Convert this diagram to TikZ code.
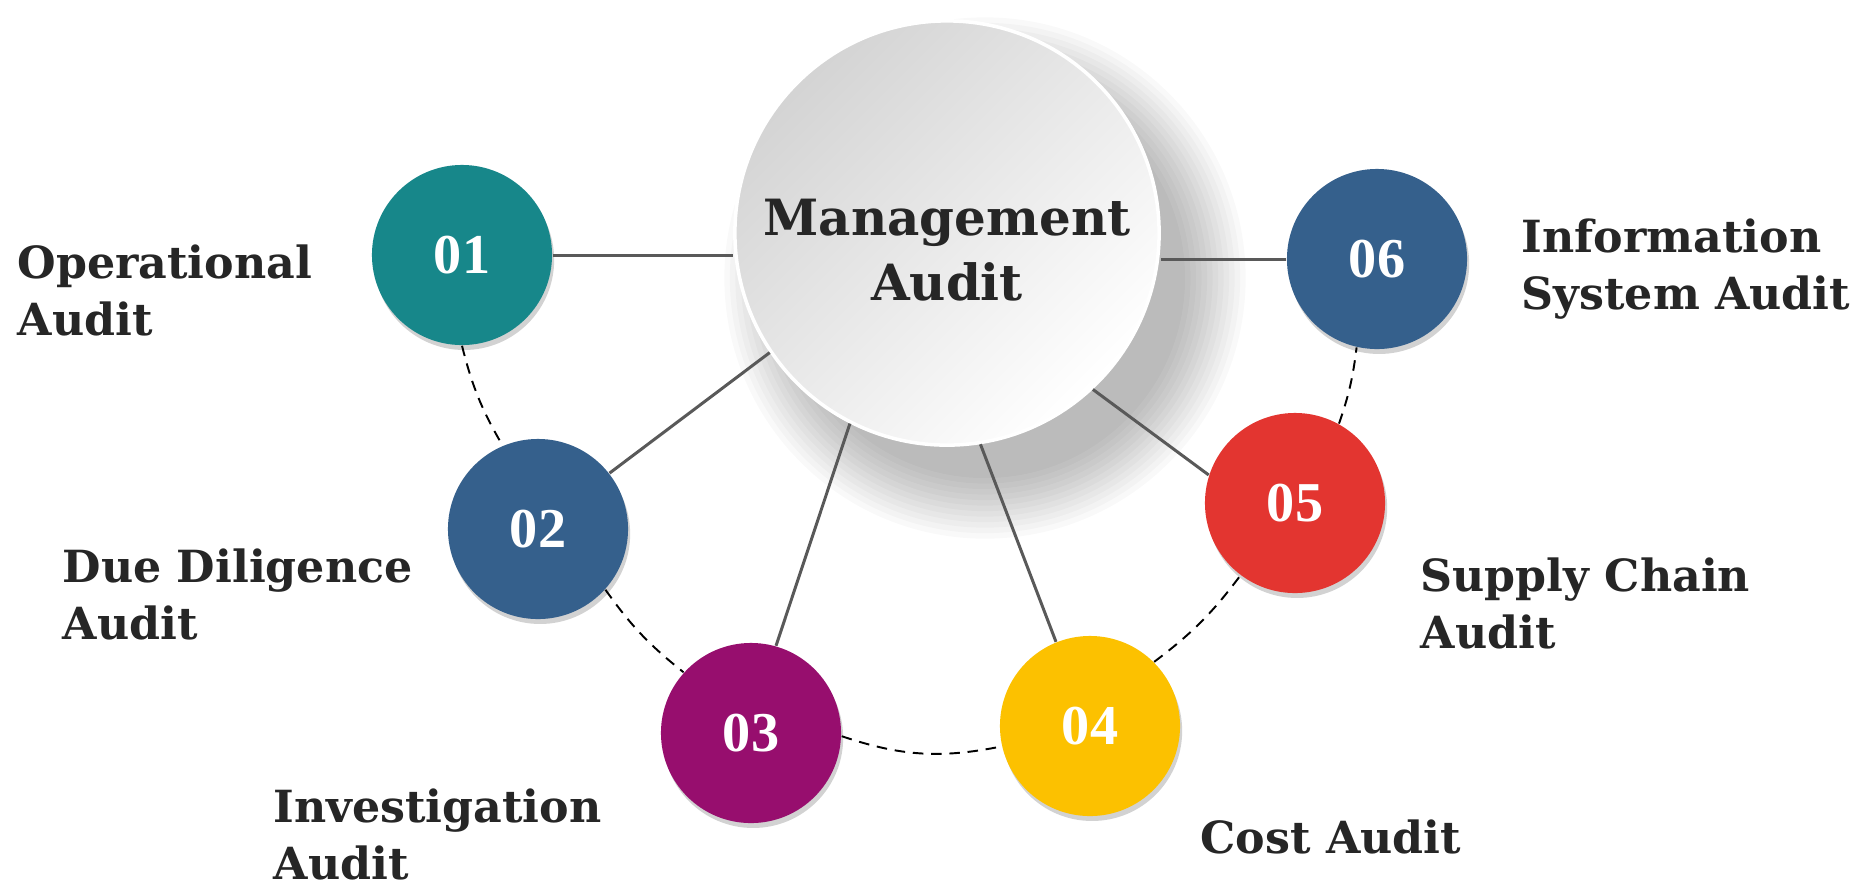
\documentclass[tikz,border=0pt]{standalone}
\usepackage{fontspec}
\setmainfont{DejaVu Serif}
\newfontfamily\numfont{Liberation Serif}
\usetikzlibrary{shadows}

\definecolor{teal01}{HTML}{17878A}
\definecolor{blue02}{HTML}{35608C}
\definecolor{purple03}{HTML}{970E6E}
\definecolor{yellow04}{HTML}{FCC100}
\definecolor{red05}{HTML}{E33530}
\definecolor{linegray}{HTML}{595959}
\definecolor{textgray}{HTML}{262626}

\begin{document}
\begin{tikzpicture}[x=0.01cm, y=-0.01cm,
  bubble/.style={circle, minimum size=1.8cm, inner sep=0pt, text=white,
    font=\numfont\bfseries\fontsize{16}{18}\selectfont,
    drop shadow={shadow xshift=0.6pt, shadow yshift=-1.4pt, opacity=0.35}},
  auditname/.style={align=left, anchor=base west, inner sep=0pt, text=textgray,
    font=\bfseries\fontsize{12.6}{16.2}\selectfont},
  spoke/.style={draw=linegray, line width=0.85pt},
  dashlink/.style={draw=black, line width=0.55pt, dash pattern=on 3pt off 2.2pt}]

\fill[white] (0,0) rectangle (1863,887);
\useasboundingbox (0,0) rectangle (1863,887);

% soft shadow of the centre circle
\foreach \i in {0,...,11}
  \fill[black, opacity=0.022] (985,278) circle ({2.0cm+0.55mm*\i});

\node[circle, minimum size=4.24cm, inner sep=0pt, draw=white, line width=1pt,
  top color=black!17, bottom color=white, shading angle=45] (main) at (947,233) {};
\node[align=center, text=textgray, font=\bfseries\fontsize{14.2}{18.5}\selectfont]
  (maintext) at ([yshift=-5pt]main.center) {Management\\Audit};

\node[bubble, fill=teal01] (n01) at (462,255) {01};
\node[bubble, fill=blue02] (n02) at (538,529) {02};
\node[bubble, fill=purple03] (n03) at (751,733) {03};
\node[bubble, fill=yellow04] (n04) at (1090,726) {04};
\node[bubble, fill=red05] (n05) at (1295,503) {05};
\node[bubble, fill=blue02] (n06) at (1377,259) {06};

% spokes from the centre
\draw[spoke] (n01.east) -- (n01.east -| main.west);
\draw[spoke] (n02.38) -- (main.214);
\draw[spoke] (n03.74) -- (main.243);
\draw[spoke] (n04.112) -- (main.-81);
\draw[spoke] (n05.162) -- (main.-47);
\draw[spoke] (n06.west) -- (n06.west -| main.east);

% dashed ring
\draw[dashlink] (n01.-90) to[bend right=8] (n02.113);
\draw[dashlink] (n02.-42) to[bend right=8] (n03.138);
\draw[dashlink] (n03.-2) to[bend right=15] (n04.193);
\draw[dashlink] (n04.45) to[bend right=8] (n05.233);
\draw[dashlink] (n05.61) to[bend right=6] (n06.257);

\node[auditname] (t01) at (17,335) {Operational\\Audit};
\node[auditname] (t02) at (62,639) {Due Diligence\\Audit};
\node[auditname] (t03) at (273,879) {Investigation\\Audit};
\node[auditname] (t04) at (1200,853) {Cost Audit};
\node[auditname] (t05) at (1420,648) {Supply Chain\\Audit};
\node[auditname] (t06) at (1521,309) {Information\\System Audit};
\end{tikzpicture}
\end{document}
